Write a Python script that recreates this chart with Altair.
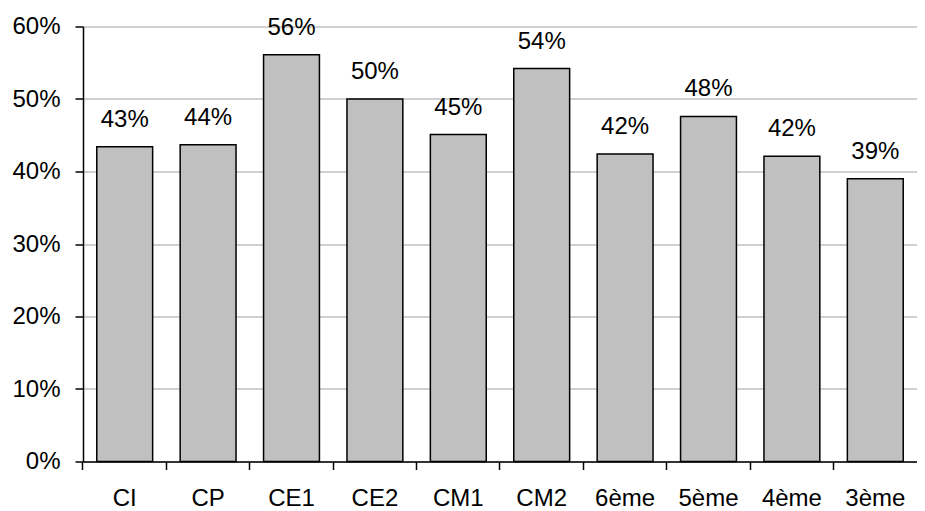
import altair as alt
import pandas as pd

categories = ["CI", "CP", "CE1", "CE2", "CM1", "CM2", "6ème", "5ème", "4ème", "3ème"]
values = [0.434, 0.437, 0.561, 0.500, 0.451, 0.542, 0.424, 0.476, 0.421, 0.390]
y_ticks = [0, 0.1, 0.2, 0.3, 0.4, 0.5, 0.6]

df = pd.DataFrame({"niveau": categories, "part": values})

FONT = "Liberation Sans"
PI = 0.33

x = alt.X(
    "niveau:N",
    sort=categories,
    title=None,
    scale=alt.Scale(paddingInner=PI, paddingOuter=PI / 2),
    axis=alt.Axis(
        labelAngle=0,
        bandPosition=-(PI / 2) / (1 - PI),
        tickSize=8,
        tickWidth=1.5,
        tickColor="black",
        domainColor="black",
        domainWidth=1.5,
        labelFontSize=24,
        labelFont=FONT,
        labelColor="black",
        labelPadding=17,
        grid=False,
    ),
)
y = alt.Y(
    "part:Q",
    title=None,
    scale=alt.Scale(domain=[0, 0.6], nice=False),
    axis=alt.Axis(
        values=y_ticks,
        format=".0%",
        tickSize=8,
        tickWidth=1.5,
        tickColor="black",
        domainColor="black",
        domainWidth=1.5,
        labelFontSize=24,
        labelFont=FONT,
        labelColor="black",
        labelPadding=15,
        grid=True,
        gridColor="#c0c0c0",
        gridWidth=1.5,
    ),
)

base = alt.Chart(df)
bars = base.mark_bar(color="#c0c0c0", stroke="black", strokeWidth=1.5).encode(x=x, y=y)
labels = base.mark_text(
    baseline="alphabetic", dy=-20, fontSize=24, font=FONT, color="black"
).encode(x=x, y=y, text=alt.Text("part:Q", format=".0%"))

chart = (
    alt.layer(bars, labels)
    .properties(
        width=834,
        height=435,
        autosize=alt.AutoSizeParams(type="none"),
        padding={"left": 75, "top": 18.5, "right": 0, "bottom": 49},
    )
    .configure_view(stroke=None)
)

chart.save("out.html", embed_options={"renderer": "svg", "actions": False})
